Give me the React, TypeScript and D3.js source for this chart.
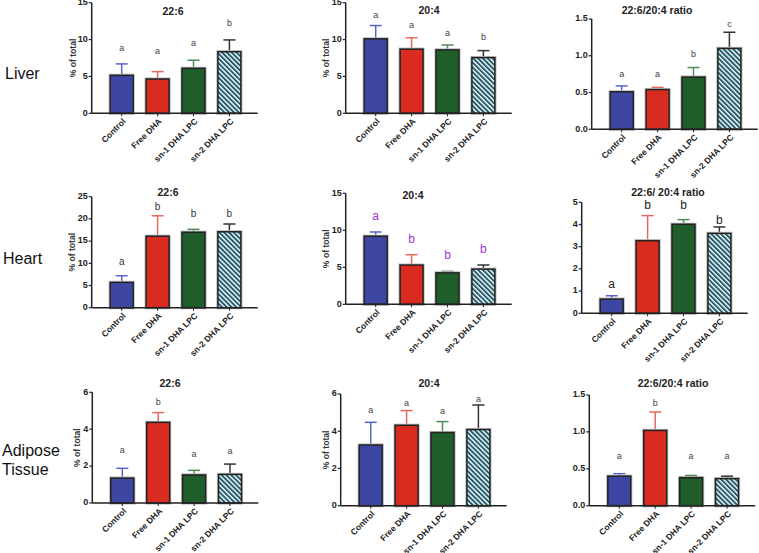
import React from "react";
import * as d3 from "d3";

const groups = ["Control", "Free DHA", "sn-1 DHA LPC", "sn-2 DHA LPC"];
const rowLabels = [["Liver"], ["Heart"], ["Adipose", "Tissue"]];
const titles = ["22:6", "20:4", "22:6/20:4 ratio", "22:6", "20:4", "22:6/ 20:4 ratio", "22:6", "20:4", "22:6/20:4 ratio"];
const yMax = [15, 15, 1.5, 25, 15, 5, 6, 6, 1.5];
const yStep = [5, 5, 0.5, 5, 5, 1, 2, 2, 0.5];
const hasYLabel = [true, true, false, true, true, false, true, true, false];

const liver226 = [5.15, 4.65, 6.1, 8.35];
const liver226Sem = [1.55, 1.0, 1.1, 1.6];
const liver204 = [10.1, 8.7, 8.6, 7.55];
const liver204Sem = [1.8, 1.55, 0.67, 0.95];
const liverRatio = [0.51, 0.54, 0.71, 1.1];
const liverRatioSem = [0.08, 0.03, 0.13, 0.22];
const heart226 = [5.7, 16.1, 17.0, 17.1];
const heart226Sem = [1.5, 4.6, 0.65, 1.75];
const heart204 = [9.2, 5.3, 4.25, 4.75];
const heart204Sem = [0.57, 1.4, 0.21, 0.56];
const heartRatio = [0.64, 3.27, 4.01, 3.6];
const heartRatioSem = [0.15, 1.13, 0.21, 0.29];
const adipose226 = [1.35, 4.37, 1.52, 1.55];
const adipose226Sem = [0.53, 0.53, 0.25, 0.56];
const adipose204 = [3.26, 4.32, 3.93, 4.09];
const adipose204Sem = [1.22, 0.79, 0.59, 1.32];
const adiposeRatio = [0.4, 1.02, 0.38, 0.366];
const adiposeRatioSem = [0.034, 0.25, 0.03, 0.034];

const letters = [
  ["a", "a", "a", "b"], ["a", "a", "a", "b"], ["a", "a", "b", "c"],
  ["a", "b", "b", "b"], ["a", "b", "b", "b"], ["a", "b", "b", "b"],
  ["a", "b", "a", "a"], ["a", "a", "a", "a"], ["a", "b", "a", "a"],
];
const letterLevels = [
  [8.8, 8.3, 9.5, 12.2], [13.2, 11.9, 10.8, 10.26], [0.75, 0.75, 1.02, 1.42],
  [10.1, 22.7, 21.0, 21.0], [11.8, 8.7, 6.5, 7.4], [1.27, 4.83, 4.83, 4.16],
  [2.82, 5.46, 2.64, 2.76], [5.1, 5.47, 5.05, 5.72], [0.664, 1.38, 0.664, 0.664],
];

const means = [liver226, liver204, liverRatio, heart226, heart204, heartRatio, adipose226, adipose204, adiposeRatio];
const sems = [liver226Sem, liver204Sem, liverRatioSem, heart226Sem, heart204Sem, heartRatioSem, adipose226Sem, adipose204Sem, adiposeRatioSem];

// layout (pixels)
const layout = [
  { ax: 91.7, yT: 2.7, yB: 113.3, lx: 73.3, tx: 173, ty: 12 },
  { ax: 345.7, yT: 2.7, yB: 113.3, lx: 326.7, tx: 429, ty: 11 },
  { ax: 591.7, yT: 19, yB: 129.3, lx: 0, tx: 657, ty: 11 },
  { ax: 91.7, yT: 196.7, yB: 307.7, lx: 72.3, tx: 168, ty: 193 },
  { ax: 345.7, yT: 193.3, yB: 304.3, lx: 326.7, tx: 413, ty: 196 },
  { ax: 581.7, yT: 202.3, yB: 313.3, lx: 0, tx: 668, ty: 193 },
  { ax: 92.3, yT: 392.3, yB: 503, lx: 77.3, tx: 170, ty: 384 },
  { ax: 340.7, yT: 394, yB: 505.7, lx: 326.7, tx: 429, ty: 384 },
  { ax: 589.3, yT: 395, yB: 505.7, lx: 0, tx: 673, ty: 384 },
];
const letterStyle = [
  { size: 9, color: "#444" }, { size: 9, color: "#444" }, { size: 9, color: "#444" },
  { size: 10, color: "#333" }, { size: 12, color: "#9b33d6" }, { size: 12, color: "#222" },
  { size: 9, color: "#444" }, { size: 9, color: "#444" }, { size: 9, color: "#444" },
];
const rowLabelPos = [
  { x: 5, y: 75 }, { x: 3, y: 260 }, { x: 2, y: 451.5 },
];

const fills = ["#3d47a3", "#d92b1f", "#1f5e2b", "url(#hatch)"];
const errColors = ["#5a64c8", "#e8675c", "#4f8c5b", "#333"];
const FONT = "Arial, 'Liberation Sans', Helvetica, sans-serif";

function Panel({ i }: { i: number }) {
  const L = layout[i];
  const y = d3.scaleLinear().domain([0, yMax[i]]).range([L.yB, L.yT]);
  const step = 35.9;
  const x = d3
    .scaleBand<string>()
    .domain(groups)
    .range([L.ax + 30 - step / 2, L.ax + 30 - step / 2 + step * 4])
    .paddingInner(0.36)
    .paddingOuter(0.18);
  const bw = x.bandwidth();
  const ticks = d3.range(0, yMax[i] + yStep[i] / 2, yStep[i]);
  const fmt = yStep[i] < 1 ? d3.format(".1f") : d3.format("d");
  const axisEnd = L.ax + 166;
  const ls = letterStyle[i];
  return (
    <g>
      <text x={L.tx} y={L.ty} textAnchor="middle" dominantBaseline="middle" fontSize={10.5} fontWeight="bold" fill="#222" fontFamily={FONT}>
        {titles[i]}
      </text>
      {hasYLabel[i] && (
        <text
          transform={`translate(${L.lx},${(L.yT + L.yB) / 2}) rotate(-90)`}
          textAnchor="middle"
          dominantBaseline="middle"
          fontSize={8.6}
          fontWeight="bold"
          fill="#333"
          fontFamily={FONT}
        >
          % of total
        </text>
      )}
      {groups.map((g, k) => {
        const x0 = x(g)!;
        const cx = x0 + bw / 2;
        const top = y(means[i][k]);
        const et = y(means[i][k] + sems[i][k]);
        return (
          <g key={g}>
            <line x1={cx} x2={cx} y1={top} y2={et} stroke={errColors[k]} strokeWidth={1.5} />
            <line x1={cx - 6} x2={cx + 6} y1={et} y2={et} stroke={errColors[k]} strokeWidth={1.5} />
            <rect x={x0} y={top} width={bw} height={L.yB - top} fill="none" stroke="#bbb" strokeWidth={3.2} />
            <rect x={x0} y={top} width={bw} height={L.yB - top} fill={fills[k]} stroke="#222" strokeWidth={1.5} />
            <text x={cx} y={y(letterLevels[i][k])} textAnchor="middle" dominantBaseline="middle" fontSize={ls.size} fill={ls.color} fontFamily={FONT}>
              {letters[i][k]}
            </text>
            <line x1={cx} x2={cx} y1={L.yB} y2={L.yB + 3} stroke="#222" strokeWidth={1} />
            <text
              transform={`translate(${cx + 3},${L.yB + 7}) rotate(-45)`}
              textAnchor="end"
              dominantBaseline="middle"
              fontSize={8.5}
              fontWeight="bold"
              fill="#222"
              fontFamily={FONT}
            >
              {g}
            </text>
          </g>
        );
      })}
      <line x1={L.ax} x2={L.ax} y1={L.yT} y2={L.yB} stroke="#222" strokeWidth={1.5} />
      <line x1={L.ax} x2={axisEnd} y1={L.yB} y2={L.yB} stroke="#222" strokeWidth={1.5} />
      {ticks.map((t) => (
        <g key={t}>
          <line x1={L.ax - 3} x2={L.ax} y1={y(t)} y2={y(t)} stroke="#222" strokeWidth={1.2} />
          <text x={L.ax - 4} y={y(t)} textAnchor="end" dominantBaseline="middle" fontSize={9} fontWeight="bold" fill="#222" fontFamily={FONT}>
            {fmt(t)}
          </text>
        </g>
      ))}
    </g>
  );
}

export default function App() {
  return (
    <svg width={759} height={553} style={{ position: "absolute", left: 0, top: 0, background: "#fff" }}>
      <defs>
        <pattern id="hatch" patternUnits="userSpaceOnUse" width={3.4} height={3.4} patternTransform="rotate(-45)">
          <rect width={3.4} height={3.4} fill="#ffffff" />
          <rect width={2} height={3.4} fill="#1f5c6c" />
        </pattern>
      </defs>
      <rect width={759} height={553} fill="#fff" />
      {rowLabels.map((lines, r) => (
        <text key={r} x={rowLabelPos[r].x} y={rowLabelPos[r].y} fontSize={16} fill="#111" fontFamily={FONT} dominantBaseline="middle">
          {lines.map((ln, j) => (
            <tspan key={j} x={rowLabelPos[r].x} dy={j === 0 ? 0 : 19}>
              {ln}
            </tspan>
          ))}
        </text>
      ))}
      {titles.map((_, i) => (
        <Panel key={i} i={i} />
      ))}
    </svg>
  );
}
